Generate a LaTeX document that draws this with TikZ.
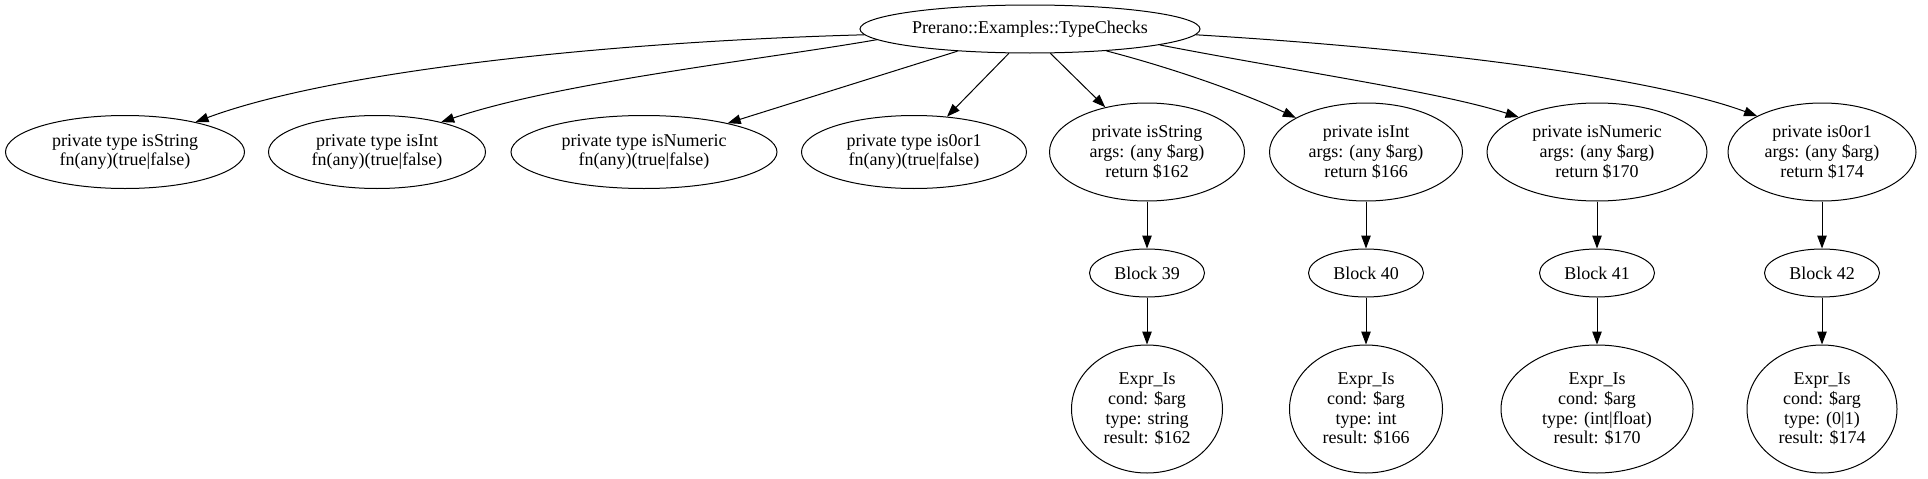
\documentclass[tikz,border=0pt]{standalone}
\usepackage{fontspec}
\setmainfont{Liberation Serif}
\usetikzlibrary{shapes.geometric,arrows.meta}
\begin{document}
\begin{tikzpicture}[x=1pt,y=-1pt,
  ell/.style={draw, ellipse, inner sep=0pt, align=center, line width=1pt,
    font=\fontsize{18}{19.8}\selectfont},
  edge/.style={line width=1pt, -{Triangle[length=13pt,width=9.5pt]}}]
\useasboundingbox (0,0) rectangle (1928,479);
% top
\node[ell, minimum width=340pt, minimum height=48pt] (top) at (1030,29) {Prerano::Examples::TypeChecks};
% row 2
\node[ell, minimum width=239pt, minimum height=73pt] (n1) at (125,152) {private type isString\\fn(any)(true|false)};
\node[ell, minimum width=217pt, minimum height=73pt] (n2) at (377,152) {private type isInt\\fn(any)(true|false)};
\node[ell, minimum width=266pt, minimum height=73pt] (n3) at (644,152) {private type isNumeric\\fn(any)(true|false)};
\node[ell, minimum width=225pt, minimum height=73pt] (n4) at (914,152) {private type is0or1\\fn(any)(true|false)};
\node[ell, minimum width=195pt, minimum height=98pt] (m1) at (1147,152) {private isString\\args: (any \$arg)\\return \$162};
\node[ell, minimum width=193pt, minimum height=98pt] (m2) at (1366,152) {private isInt\\args: (any \$arg)\\return \$166};
\node[ell, minimum width=220pt, minimum height=98pt] (m3) at (1597,152) {private isNumeric\\args: (any \$arg)\\return \$170};
\node[ell, minimum width=188pt, minimum height=98pt] (m4) at (1822,152) {private is0or1\\args: (any \$arg)\\return \$174};
% blocks
\node[ell, minimum width=115pt, minimum height=48pt] (b1) at (1147,273) {Block 39};
\node[ell, minimum width=115pt, minimum height=48pt] (b2) at (1366,273) {Block 40};
\node[ell, minimum width=115pt, minimum height=48pt] (b3) at (1597,273) {Block 41};
\node[ell, minimum width=115pt, minimum height=48pt] (b4) at (1822,273) {Block 42};
% exprs
\node[ell, minimum width=151pt, minimum height=128pt] (x1) at (1147,409) {Expr\_Is\\cond: \$arg\\type: string\\result: \$162};
\node[ell, minimum width=153pt, minimum height=128pt] (x2) at (1366,409) {Expr\_Is\\cond: \$arg\\type: int\\result: \$166};
\node[ell, minimum width=192pt, minimum height=128pt] (x3) at (1597,409) {Expr\_Is\\cond: \$arg\\type: (int|float)\\result: \$170};
\node[ell, minimum width=150pt, minimum height=128pt] (x4) at (1822,409) {Expr\_Is\\cond: \$arg\\type: (0|1)\\result: \$174};
% edges from top
\draw[edge] (top.182.5) .. controls (600,42) and (330,72) .. (n1.23.8);
\draw[edge] (top.184.9) .. controls (760,60) and (560,82) .. (n2.25.1);
\draw[edge] (top.197.5) -- (n3.19.7);
\draw[edge] (top.229.8) -- (n4.47.5);
\draw[edge] (top.310.2) -- (m1.133);
\draw[edge] (top.344.7) .. controls (1180,70) and (1250,96) .. (m2.154.4);
\draw[edge] (top.353.2) .. controls (1300,72) and (1440,92) .. (m3.156.1);
\draw[edge] (top.358.2) .. controls (1450,50) and (1660,80) .. (m4.151);
% vertical
\draw[edge] (m1) -- (b1);
\draw[edge] (m2) -- (b2);
\draw[edge] (m3) -- (b3);
\draw[edge] (m4) -- (b4);
\draw[edge] (b1) -- (x1);
\draw[edge] (b2) -- (x2);
\draw[edge] (b3) -- (x3);
\draw[edge] (b4) -- (x4);
\end{tikzpicture}
\end{document}
